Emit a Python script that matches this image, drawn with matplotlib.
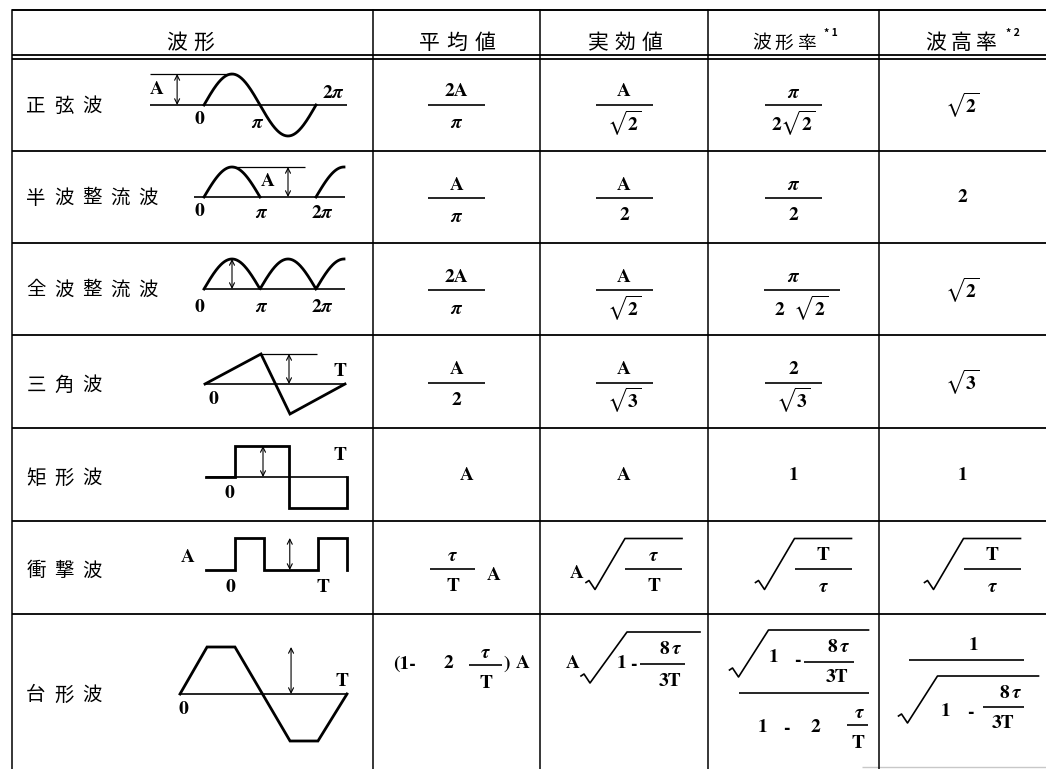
import numpy as np
import matplotlib.pyplot as plt

plt.rcParams['font.family'] = ['Noto Sans CJK JP', 'DejaVu Sans']
plt.rcParams['mathtext.fontset'] = 'custom'
plt.rcParams['mathtext.rm'] = 'STIXGeneral:bold'
plt.rcParams['mathtext.it'] = 'STIXGeneral:italic:bold'
plt.rcParams['mathtext.bf'] = 'STIXGeneral:bold'
plt.rcParams['mathtext.fallback'] = 'stix'
plt.rcParams['mathtext.default'] = 'rm'

PI = r'\mathit{\pi}'
TAU = r'\mathit{\tau}'

# ---- table content ----
headers = ['波形', '平均値', '実効値', '波形率', '波高率']
header_notes = ['', '', '', '* 1', '* 2']
row_names = ['正弦波', '半波整流波', '全波整流波', '三角波', '矩形波', '衝撃波', '台形波']

# ('f', num, den[, bar width, shift]) fraction, ('t', s) plain,
# ('fa', num, den, tail) fraction then text, ('rf', pre, num, den) root of a fraction
mean_vals = [('f', '2A', PI), ('f', 'A', PI), ('f', '2A', PI),
             ('f', 'A', '2'), ('t', 'A'), ('fa', TAU, 'T', 'A')]
rms_vals = [('f', 'A', r'\sqrt{2}'), ('f', 'A', '2'), ('f', 'A', r'\sqrt{2}'),
            ('f', 'A', r'\sqrt{3}'), ('t', 'A'), ('rf', 'A', TAU, 'T')]
form_vals = [('f', PI, r'2\sqrt{2}'), ('f', PI, '2'), ('f', PI, r'2\ \ \sqrt{2}', 76, 8),
             ('f', '2', r'\sqrt{3}'), ('t', '1'), ('rf', '', 'T', TAU)]
crest_vals = [('t', r'\sqrt{2}'), ('t', '2'), ('t', r'\sqrt{2}'),
              ('t', r'\sqrt{3}'), ('t', '1'), ('rf', '', 'T', TAU)]
# trapezoid row: 1 - 2 tau/T  and  1 - 8 tau / 3T
trap_one, trap_two = '1', '2'
trap_num, trap_den = r'8\,' + TAU, '3T'

# ---- waveform icons (x in periods, y in peak amplitudes) ----
t1 = np.linspace(0, 1, 200)
th = np.linspace(0, 0.5, 100)
tq = np.linspace(0, 0.25, 50)
tf = np.linspace(0, 1.25, 300)
waves = [
    [(t1, np.sin(2 * np.pi * t1))],
    [(th, np.sin(2 * np.pi * th)), (1 + tq, np.sin(2 * np.pi * tq))],
    [(tf, np.abs(np.sin(2 * np.pi * tf)))],
    [([0, 0.4, 0.607, 1.0], [0, 1, -1, 0])],
    [([-0.26, 0, 0, 0.48, 0.48, 1, 1], [0, 0, 1, 1, -1, -1, 0])],
    [([-0.35, 0, 0, 0.35, 0.35, 1, 1, 1.35, 1.35], [0, 0, 1, 1, 0, 0, 1, 1, 0])],
    [([0, 0.162, 0.329, 0.659, 0.826, 1.0], [0, 1, 1, -1, -1, 0])],
]
wave_box = [(204, 105, 112, 31), (204, 197, 112, 30), (204, 289, 112, 30),
            (205, 384, 140, 30), (235, 477, 112, 31), (235, 570, 83, 32),
            (180, 694, 167, 47)]
base_span = [(-0.48, 1.28), (-0.09, 1.26), (0, 1.26), (0, 1), (-0.26, 1), None, (0, 1)]
top_span = [(-0.48, 0.25), (0.25, 0.9), None, (0.4, 0.8), None, None, None]
arrow_ph = [-0.24, 0.75, 0.25, 0.6, 0.25, 0.66, 0.665]
wave_labels = [
    [('A', -47, -15), ('0', -5, 15), (PI, 54, 18), ('2' + PI, 129, -13)],
    [('A', 64, -15), ('0', -5, 15), (PI, 58, 15), ('2' + PI, 118, 15)],
    [('0', -5, 18), (PI, 58, 18), ('2' + PI, 118, 18)],
    [('T', 135, -12), ('0', 8, 16)],
    [('T', 105, -21), ('0', -6, 16)],
    [('A', -47, -12), ('0', -5, 17), ('T', 88, 17)],
    [('T', 162, -13), ('0', 3, 16)],
]

# ---- grid ----
col_x = [12, 373, 540, 708, 879, 1046]
row_y = [10, 57, 151, 243, 335, 428, 521, 614, 769]

fig = plt.figure(figsize=(10.46, 7.69), dpi=100)
ax = fig.add_axes([0, 0, 1, 1])
ax.set_xlim(0, 1046)
ax.set_ylim(769, 0)
ax.axis('off')


def put(x, y, s, size=14):
    if '\\' in s:
        ax.text(x, y, '$' + s + '$', ha='center', va='center', fontsize=size)
    else:
        ax.text(x, y, s, ha='center', va='center', fontsize=size,
                family='STIXGeneral', weight='bold')


def hbar(x0, x1, y, lw=1.0, color='k'):
    ax.plot([x0, x1], [y, y], color=color, lw=lw, solid_capstyle='butt')


def frac(xc, y, num, den, w=57, shift=0, nx=None):
    hbar(xc + shift - w / 2, xc + shift + w / 2, y, lw=1.2)
    put(xc if nx is None else nx, y - 13, num)
    put(xc + shift, y + 18, den)


def radical(xs, xe, ytop, ybot, dx=30):
    ax.plot([xs - dx - 9, xs - dx - 6, xs - dx, xs, xe],
            [ybot - 7, ybot - 9, ybot, ytop, ytop], color='k', lw=1.2)


# table lines
hbar(col_x[0], col_x[-1], row_y[0], lw=1.4)
hbar(col_x[0], col_x[-1], 55, lw=1.3)
hbar(col_x[0], col_x[-1], 59, lw=1.3)
for y in row_y[2:-1]:
    hbar(col_x[0], col_x[-1], y, lw=1.3)
hbar(862, col_x[-1], 767, lw=1.0, color='#c8c8c8')
for x in col_x[:-1]:
    ax.plot([x, x], [row_y[0], row_y[-1]], color='k', lw=1.1)

# header
header_x = [190, 457, 625, 784, 961]
header_pitch = [27, 28, 27, 22, 25]
header_size = [15, 15, 15, 13.5, 15]
for name, note, hx, p, fs in zip(headers, header_notes, header_x, header_pitch, header_size):
    n = len(name)
    for k, ch in enumerate(name):
        ax.text(hx + (k - (n - 1) / 2) * p, 43, ch, ha='center', va='center', fontsize=fs)
    if note:
        ax.text(hx + (n / 2) * p + 7, 33, note, ha='left', va='center', fontsize=7.5,
                weight='bold')

# row names and waveform icons
for i, name in enumerate(row_names):
    x0, yb, per, amp = wave_box[i]
    for k, ch in enumerate(name):
        ax.text(36 + 28 * k, yb + 1, ch, ha='center', va='center', fontsize=14)
    if base_span[i]:
        a, b = base_span[i]
        hbar(x0 + a * per, x0 + b * per, yb, lw=1.2)
    if top_span[i]:
        a, b = top_span[i]
        hbar(x0 + a * per, x0 + b * per, yb - amp, lw=0.9)
    for ph, v in waves[i]:
        ax.plot(x0 + np.asarray(ph) * per, yb - np.asarray(v) * amp, color='k', lw=2.0,
                solid_joinstyle='miter')
    xa = x0 + arrow_ph[i] * per
    ax.annotate('', xy=(xa, yb - amp), xytext=(xa, yb),
                arrowprops=dict(arrowstyle='<->', lw=0.8, mutation_scale=9, color='k',
                                shrinkA=0, shrinkB=0))
    for s, dx, dy in wave_labels[i]:
        put(x0 + dx, yb + dy, s, size=14)

# value cells (rows 1-6)
columns = [mean_vals, rms_vals, form_vals, crest_vals]
for c, vals in enumerate(columns):
    xc = (col_x[c + 1] + col_x[c + 2]) / 2
    for r, cell in enumerate(vals):
        yc = (row_y[r + 1] + row_y[r + 2]) / 2 + 1
        kind = cell[0]
        if kind == 'f':
            w, sh = (cell[3], cell[4]) if len(cell) > 3 else (57, 0)
            frac(xc, yc, cell[1], cell[2], w=w, shift=sh)
        elif kind == 't':
            put(xc + (10 if (c == 0 and r == 4) else 0), yc, cell[1], size=14)
        elif kind == 'fa':
            frac(xc - 4, yc, cell[1], cell[2], w=45)
            put(xc + 37, yc + 7, cell[3])
        elif kind == 'rf':
            xs, xe = xc + 1, xc + 58
            radical(xs, xe, yc - 30, yc + 21)
            frac((xs + xe) / 2, yc, cell[2], cell[3], w=xe - xs)
            if cell[1]:
                put(xc - 47, yc + 5, cell[1])

# trapezoid row (last)
xc = [(col_x[c + 1] + col_x[c + 2]) / 2 for c in range(4)]
# mean: (1-  2 tau/T)A
y = 664
put(xc[0] - 52, y, '(' + trap_one + '-')
put(xc[0] - 8, y, trap_two)
frac(xc[0] + 29, y + 1, TAU, 'T', w=33)
put(xc[0] + 50, y, ')')
put(xc[0] + 66, y, 'A')
# rms: A sqrt(1 - 8tau/3T)
put(xc[1] - 51, y, 'A')
radical(xc[1] + 3, xc[1] + 76, 632, 683, dx=37)
put(xc[1] - 2, y, trap_one)
put(xc[1] + 9, y, '-')
hbar(xc[1] + 16, xc[1] + 61, y, lw=1.2)
put(xc[1] + 47, y - 16, trap_num)
put(xc[1] + 46, y + 17, trap_den)
# form factor: sqrt(1 - 8tau/3T) / (1 - 2 tau/T)
x = xc[2]
radical(x - 25, x + 75, 630, 677)
put(x - 20, 658, trap_one)
put(x + 4, 660, '-')
hbar(x + 10, x + 60, 662, lw=1.2)
put(x + 45, 647, trap_num)
put(x + 44, 678, trap_den)
hbar(x - 55, x + 75, 693, lw=1.2)
put(x - 31, 728, trap_one)
put(x - 7, 728, '-')
put(x + 22, 728, trap_two)
frac(x + 64, 725, TAU, 'T', w=21, nx=x + 66)
# crest factor: 1 / sqrt(1 - 8tau/3T)
x = xc[3]
hbar(x - 54, x + 61, 660, lw=1.2)
put(x + 11, 646, trap_one)
radical(x - 25, x + 76, 676, 723)
put(x - 17, 712, trap_one)
put(x + 8, 712, '-')
hbar(x + 20, x + 61, 707, lw=1.2)
put(x + 48, 693, trap_num)
put(x + 40, 723, trap_den)

fig.savefig('out.png', dpi=100)
